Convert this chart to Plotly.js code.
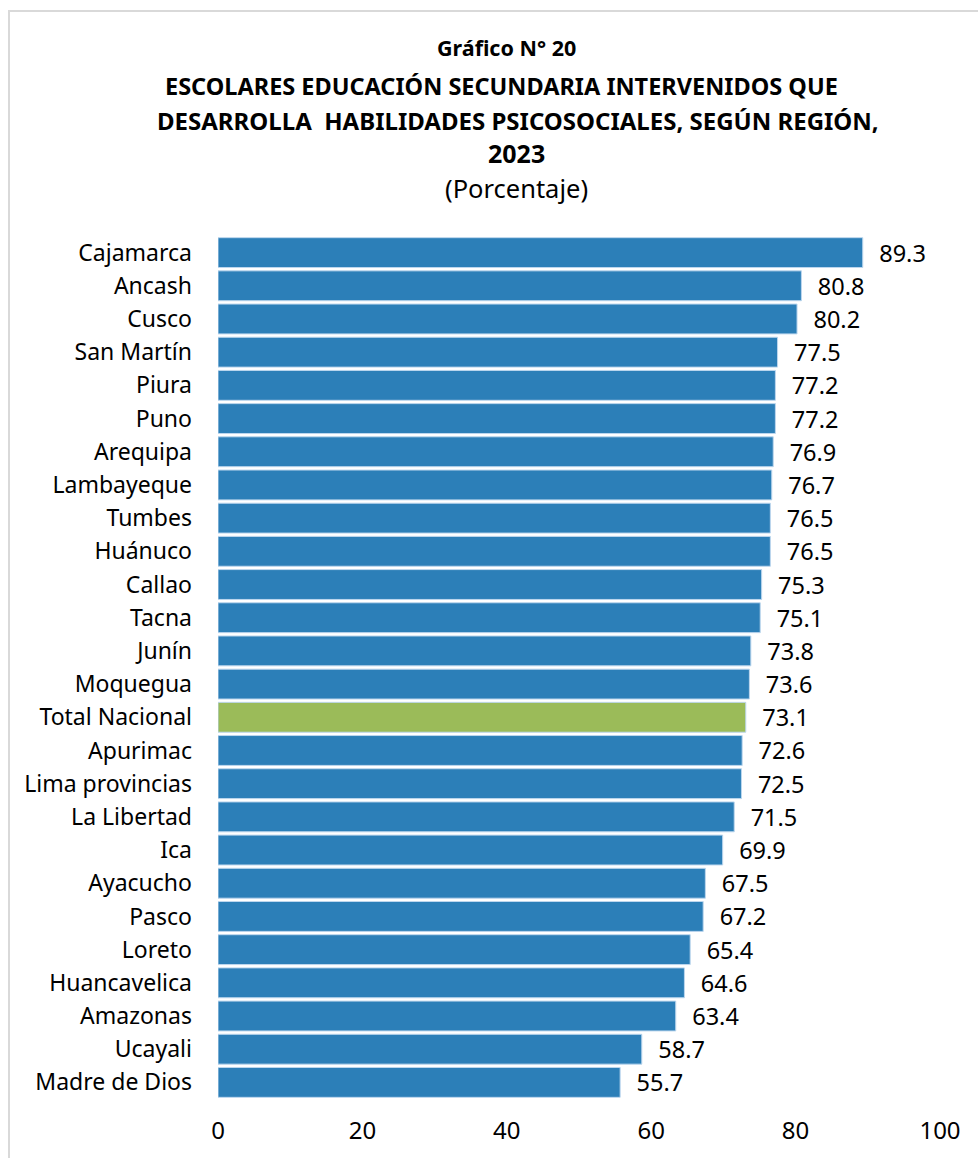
<!DOCTYPE html>
<html><head><meta charset="utf-8">
<script src="https://cdn.plot.ly/plotly-3.0.1.min.js"></script>
<style>html,body{margin:0;padding:0;background:#fff}#c{width:978px;height:1158px}</style>
</head><body><div id="c"></div>
<script>
const regions = ["Cajamarca","Ancash","Cusco","San Martín","Piura","Puno","Arequipa","Lambayeque","Tumbes","Huánuco","Callao","Tacna","Junín","Moquegua","Total Nacional","Apurimac","Lima provincias","La Libertad","Ica","Ayacucho","Pasco","Loreto","Huancavelica","Amazonas","Ucayali","Madre de Dios"];
const values = [89.3,80.8,80.2,77.5,77.2,77.2,76.9,76.7,76.5,76.5,75.3,75.1,73.8,73.6,73.1,72.6,72.5,71.5,69.9,67.5,67.2,65.4,64.6,63.4,58.7,55.7];
const highlight = "Total Nacional";
const titleLines = ["<b>Gráfico N° 20</b>","<b>ESCOLARES EDUCACIÓN SECUNDARIA INTERVENIDOS QUE</b>","<b>DESARROLLA  HABILIDADES PSICOSOCIALES, SEGÚN REGIÓN,</b>","<b>2023</b>","(Porcentaje)"];
const xTicks = [0,20,40,60,80,100];

const colors = regions.map(r => r === highlight ? "#9BBB59" : "#2C7FB8");
const F = "Noto Sans, Open Sans, sans-serif";
const trace = {
  type: "bar", orientation: "h",
  x: values, y: regions,
  marker: {color: colors, line: {color: "#BDD7EE", width: 1}},
  text: values.map(v => v.toFixed(1)),
  texttemplate: "\u2007%{text}",
  textposition: "outside",
  constraintext: "none",
  cliponaxis: false,
  textfont: {family: F, size: 23.5, color: "#000"},
  hoverinfo: "none"
};
const titleY = [1.2179, 1.1738, 1.1344, 1.0962, 1.0556];
const titleX = [0.3989, 0.392, 0.4155, 0.4141, 0.4141];
const titleSizes = [21.5, 23.5, 24, 25, 25.5];
const annotations = titleLines.map((t, i) => ({
  text: t, xref: "paper", yref: "paper", x: titleX[i], y: titleY[i],
  xanchor: "center", yanchor: "middle", showarrow: false,
  font: {family: F, size: titleSizes[i], color: "#000"}
}));
const layout = {
  width: 978, height: 1158,
  margin: {l: 218, r: 38, t: 236, b: 59},
  paper_bgcolor: "#fff", plot_bgcolor: "#fff",
  bargap: 0.1,
  showlegend: false,
  font: {family: F, size: 23, color: "#000"},
  xaxis: {range: [0, 100], tickvals: xTicks, showgrid: false, zeroline: false,
          showline: false, ticks: "", ticklabelstandoff: 15,
          tickfont: {family: F, size: 24, color: "#000"}, fixedrange: true},
  yaxis: {type: "category", autorange: "reversed", showgrid: false, zeroline: false,
          showline: false, ticks: "", ticklabelstandoff: 25,
          tickfont: {family: F, size: 23, color: "#000"}, fixedrange: true},
  annotations: annotations,
  shapes: [{type: "rect", xref: "paper", yref: "paper",
            x0: (9-218)/722, x1: (1000-218)/722, y0: (1099-1180)/863, y1: (1099-11)/863,
            line: {color: "#D9D9D9", width: 2}, fillcolor: "rgba(0,0,0,0)", layer: "below"}]
};
Plotly.newPlot("c", [trace], layout, {staticPlot: true, displayModeBar: false});
</script></body></html>
